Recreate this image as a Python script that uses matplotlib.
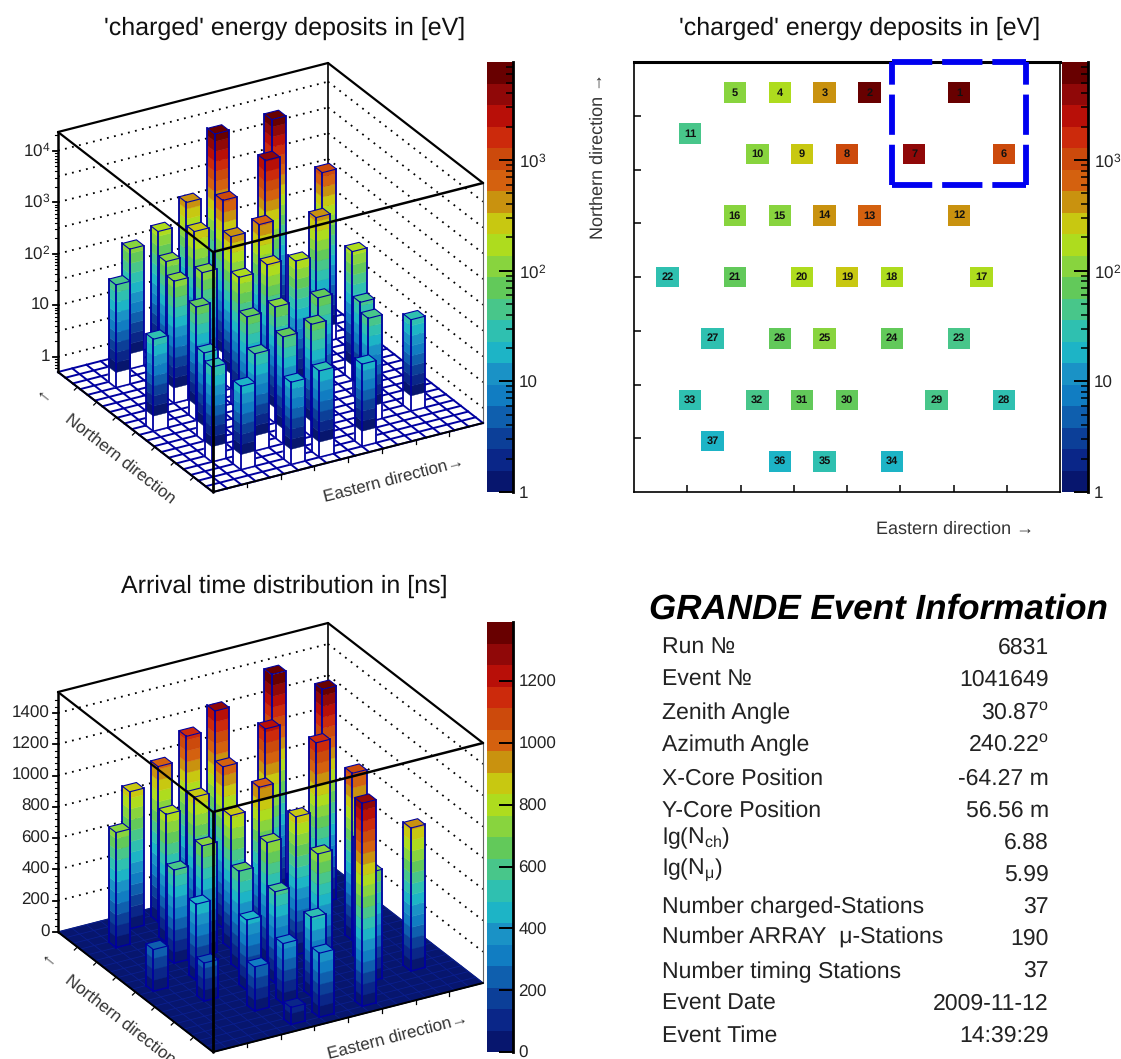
import numpy as np
import matplotlib
matplotlib.use('Agg')
import matplotlib.pyplot as plt
from matplotlib.colors import ListedColormap, BoundaryNorm
from matplotlib.ticker import FixedLocator, LogLocator, NullFormatter

plt.rcParams['font.family'] = ['Liberation Sans', 'DejaVu Sans']
plt.rcParams['mathtext.default'] = 'regular'
plt.rcParams['text.hinting'] = 'no_hinting'
plt.rcParams['text.hinting_factor'] = 1

# station number = list index + 1, column from west, row from north
station_col = [14, 10, 8, 6, 4, 16, 12, 9, 7, 5, 2, 14, 10, 8, 6, 4, 15, 11, 9, 7, 4, 1,
               14, 11, 8, 6, 3, 16, 13, 9, 7, 5, 2, 11, 8, 6, 3]
station_row = [1, 1, 1, 1, 1, 4, 4, 4, 4, 4, 3, 7, 7, 7, 7, 7, 10, 10, 10, 10, 10, 10,
               13, 13, 13, 13, 13, 16, 16, 16, 16, 16, 16, 19, 19, 19, 18]
charged = [6900, 6900, 450, 170, 107, 1000, 3300, 900, 310, 112, 50, 400, 560, 450, 125, 118,
           160, 200, 235, 185, 80, 31, 42, 83, 90, 80, 26, 30, 52, 76, 60, 39, 35, 20, 24, 20, 21]
arrival = [1394, 1253, 1138, 991, 876, 1362, 1202, 1029, 882, 818, 735, 1176, 985, 850, 703, 595,
           1068, 882, 764, 627, 486, 266, 760, 754, 582, 448, 243, 914, 697, 505, 384, 281, 0, 1298,
           409, 109, 0]

band_colors = ['#07166e', '#0a2688', '#0c3f98', '#0f5fae', '#117dc2', '#1a92c6', '#1db4c6', '#2fc0b0',
               '#48c68a', '#62c95a', '#88d43e', '#aedc1e', '#c8c811', '#c9920f', '#d4610f', '#cc4a0c',
               '#cc2a0c', '#b80f08', '#900808', '#680000']

info_labels = ['Run \u2116', 'Event \u2116', 'Zenith Angle', 'Azimuth Angle', 'X-Core Position', 'Y-Core Position',
               'lg(N$_{ch}$)', 'lg(N$_{\\mu}$)', 'Number charged-Stations', 'Number ARRAY  \u03bc-Stations',
               'Number timing Stations', 'Event Date', 'Event Time']
info_values = ['6831', '1041649', '30.87$^{o}$', '240.22$^{o}$', '-64.27 m', '56.56 m', '6.88', '5.99',
               '37', '190', '37', '2009-11-12', '14:39:29']
info_y = [648, 680, 713, 745, 779, 811, 838, 870, 907, 938, 972, 1004, 1036]
info_value_y = [648, 680, 713, 745, 779, 811, 843, 875, 907, 939, 971, 1004, 1036]

n_east = 19
n_north = 21
W = 1121
H = 1059
line_blue = '#0000a0'
tick_size = 12.5

fig = plt.figure(figsize=(W / 100, H / 100), dpi=100)
ax = fig.add_axes([0, 0, 1, 1])
ax.set_xlim(0, W)
ax.set_ylim(H, 0)
ax.axis('off')


def px_axes(x0, y0, x1, y1):
    return fig.add_axes([x0 / W, 1 - y1 / H, (x1 - x0) / W, (y1 - y0) / H])


def lego(values, band_edges, zheight, yoff, wall_z, tick_z, minor_z, tick_labels, filled_floor):
    # floor and box corners in pixels, east and north are in bins
    def pt(e, n, h=0):
        return (213 + 270 * e / n_east - 155 * n / n_north,
                492 + yoff - 69 * e / n_east - 120 * n / n_north - h)

    def seg(a, b, **kw):
        ax.plot([a[0], b[0]], [a[1], b[1]], **kw)

    top = 240
    # back walls
    for z in wall_z:
        h = zheight(z)
        dots = dict(color='black', lw=1.3, ls=(0, (1, 3)), zorder=1)
        seg(pt(0, n_north, h), pt(n_east, n_north, h), **dots)
        seg(pt(n_east, n_north, h), pt(n_east, 0, h), **dots)
    seg(pt(n_east, n_north), pt(n_east, n_north, top), color='black', lw=1.2, zorder=1)
    seg(pt(n_east, 0), pt(n_east, 0, top), color='#666666', lw=0.8, zorder=1)

    # floor
    corners = [pt(0, 0), pt(n_east, 0), pt(n_east, n_north), pt(0, n_north)]
    ax.fill([c[0] for c in corners], [c[1] for c in corners], color=band_colors[0] if filled_floor else 'white', zorder=2)
    grid_lw = 0.6 if filled_floor else 1.4
    grid_col = '#0a1f90' if filled_floor else line_blue
    for i in range(n_east + 1):
        seg(pt(i, 0), pt(i, n_north), color=grid_col, lw=grid_lw, zorder=2)
    for j in range(n_north + 1):
        seg(pt(0, j), pt(n_east, j), color=grid_col, lw=grid_lw, zorder=2)

    # towers, far ones first
    order = sorted(range(len(values)), key=lambda k: -(station_col[k] + (n_north - 1 - station_row[k])))
    zo = 3
    for k in order:
        if values[k] <= 0:
            continue
        e0 = station_col[k]
        n0 = n_north - 1 - station_row[k]
        e1 = e0 + 1
        n1 = n0 + 1
        htop = zheight(values[k])
        # white part under the first colour level
        h_start = max(zheight(band_edges[0]), 0)
        if h_start > 0:
            for a, b in [((e0, n1), (e0, n0)), ((e0, n0), (e1, n0))]:
                q = [pt(*a), pt(*b), pt(*b, h_start), pt(*a, h_start)]
                ax.fill([p[0] for p in q], [p[1] for p in q], color='white', zorder=zo)
        top_col = band_colors[0]
        for b_i, col in enumerate(band_colors):
            if values[k] <= band_edges[b_i]:
                break
            top_col = col
            h0 = zheight(band_edges[b_i])
            h1 = min(zheight(band_edges[b_i + 1]), htop)
            for a, b in [((e0, n1), (e0, n0)), ((e0, n0), (e1, n0))]:
                q = [pt(*a, h0), pt(*b, h0), pt(*b, h1), pt(*a, h1)]
                ax.fill([p[0] for p in q], [p[1] for p in q], facecolor=col, edgecolor=col, lw=0.3, zorder=zo)
        q = [pt(e0, n0, htop), pt(e1, n0, htop), pt(e1, n1, htop), pt(e0, n1, htop), pt(e0, n0, htop)]
        ax.fill([p[0] for p in q], [p[1] for p in q], facecolor=top_col, edgecolor=line_blue, lw=0.8, zorder=zo)
        for c in [(e0, n1), (e0, n0), (e1, n0)]:
            seg(pt(*c), pt(*c, htop), color=line_blue, lw=1.3, zorder=zo)
        seg(pt(e0, n0), pt(e1, n0), color=line_blue, lw=1.1, zorder=zo)
        seg(pt(e0, n0), pt(e0, n1), color=line_blue, lw=1.1, zorder=zo)
        zo += 1

    # box frame over the towers
    fr = dict(color='black', zorder=100, solid_capstyle='round')
    seg(pt(0, n_north, top), pt(n_east, n_north, top), lw=1.6, **fr)
    seg(pt(n_east, n_north, top), pt(n_east, 0, top), lw=1.6, **fr)
    seg(pt(0, n_north, top), pt(0, 0, top), lw=1.6, **fr)
    seg(pt(0, 0, top), pt(n_east, 0, top), lw=1.8, **fr)
    seg(pt(0, 0), pt(0, 0, top), lw=2.0, **fr)
    seg(pt(0, n_north), pt(0, n_north, top), lw=1.8, **fr)
    seg(pt(0, n_north), pt(0, 0), lw=1.4, **fr)
    seg(pt(0, 0), pt(n_east, 0), lw=1.4, **fr)

    # axis ticks
    left = pt(0, n_north)
    for z in tick_z:
        h = zheight(z)
        ax.plot([left[0] - 5, left[0]], [left[1] - h, left[1] - h], color='black', lw=1.3, zorder=100)
    for z in minor_z:
        h = zheight(z)
        ax.plot([left[0] - 3, left[0]], [left[1] - h, left[1] - h], color='black', lw=0.8, zorder=100)
    for z, s in zip(tick_z, tick_labels):
        ax.text(left[0] - 8, left[1] - zheight(z), s, ha='right', va='center', fontsize=tick_size, color='#222222')
    for i in range(1, 8):
        p = pt(n_east * i / 8, 0)
        ax.plot([p[0], p[0]], [p[1], p[1] + 4], color='black', lw=0.9, zorder=100)
        p = pt(0, n_north * i / 8)
        ax.plot([p[0], p[0] - 3], [p[1], p[1] + 3], color='black', lw=0.9, zorder=100)


def colorbar(x0, y0, y1, band_edges, log):
    cax = px_axes(x0, y0, x0 + 26, y1)
    cmap = ListedColormap(band_colors)
    norm = BoundaryNorm(band_edges, cmap.N)
    cax.pcolormesh([0, 1], band_edges, np.array(band_edges[:-1])[:, None] * (1 + 1e-9), cmap=cmap, norm=norm)
    if log:
        cax.set_yscale('log')
    cax.set_ylim(band_edges[0], band_edges[-1])
    cax.set_xticks([])
    for s in ['left', 'top', 'bottom']:
        cax.spines[s].set_visible(False)
    cax.spines['right'].set_linewidth(2.0)
    cax.yaxis.tick_right()
    return cax


def log_colorbar(x0):
    cb = colorbar(x0, 62, 492, charged_edges, True)
    cb.yaxis.set_major_locator(FixedLocator([1, 10, 100, 1000]))
    cb.set_yticklabels(['1', '10', '$10^{2}$', '$10^{3}$'], fontsize=tick_size, color='#222222')
    cb.yaxis.set_minor_locator(LogLocator(subs=range(2, 10)))
    cb.yaxis.set_minor_formatter(NullFormatter())
    cb.tick_params(axis='y', which='major', direction='in', length=10, width=1.4, pad=4)
    cb.tick_params(axis='y', which='minor', direction='in', length=5, width=1.1)


# top left, log z
log_min = np.log10(0.51)
log_max = np.log10(2.3e4)


def log_height(z):
    return (np.log10(z) - log_min) / (log_max - log_min) * 240


charged_edges = np.logspace(0, np.log10(7700), 21)
wall_log = [10 ** (i / 2) for i in range(0, 9)]
minor_log = [m * 10 ** d for d in range(-1, 5) for m in range(2, 10) if 0.51 < m * 10 ** d < 2.3e4]
lego(charged, charged_edges, log_height, 0, wall_log, [1, 10, 100, 1000, 10000], minor_log,
     ['1', '10', '$10^{2}$', '$10^{3}$', '$10^{4}$'], False)
log_colorbar(487)

ax.text(285, 28, "'charged' energy deposits in [eV]", ha='center', va='center', fontsize=18.2, color='#111111')
ax.text(120, 459, 'Northern direction', ha='center', va='center', rotation=-38, fontsize=12.5, color='#333333')
ax.text(43, 397, '\u2190', ha='center', va='center', rotation=-38, fontsize=14, color='#333333')
ax.text(394, 479, 'Eastern direction\u2192', ha='center', va='center', rotation=14.5, fontsize=12.5, color='#333333')

# top right, station map
map_ax = px_axes(634, 62, 1060, 492)
cell_values = np.full((n_north, n_east), np.nan)
for c, r, v in zip(station_col, station_row, charged):
    cell_values[n_north - 1 - r, c] = v
map_ax.pcolormesh(np.arange(n_east + 1), np.arange(n_north + 1), np.ma.masked_invalid(cell_values),
                  cmap=ListedColormap(band_colors), norm=BoundaryNorm(charged_edges, 20))
for i, (c, r) in enumerate(zip(station_col, station_row)):
    map_ax.text(c + 0.5, n_north - 1 - r + 0.5, str(i + 1), ha='center', va='center', fontsize=7.6,
                fontweight='bold', color='#111111')
map_ax.set_xlim(0, n_east)
map_ax.set_ylim(0, n_north)
map_ax.set_xticks([n_east * i / 8 for i in range(1, 8)])
map_ax.set_yticks([n_north * i / 8 for i in range(1, 8)])
map_ax.set_xticklabels([])
map_ax.set_yticklabels([])
map_ax.tick_params(direction='in', length=5, width=1.1)
for s in map_ax.spines.values():
    s.set_linewidth(1.2)
map_ax.spines['top'].set_linewidth(2.2)

box_x = [11.5, 17.5]
box_y = [15, 21]
dash = dict(color='#0000f0', lw=4.2, ls=(0, (6.9, 1.7)), dash_capstyle='butt', clip_on=False, zorder=10)
map_ax.plot([box_x[0], box_x[1]], [box_y[1], box_y[1]], **dash)
map_ax.plot([box_x[0], box_x[1]], [box_y[0], box_y[0]], **dash)
map_ax.plot([box_x[0], box_x[0]], [box_y[0], box_y[1]], **dash)
map_ax.plot([box_x[1], box_x[1]], [box_y[0], box_y[1]], **dash)

log_colorbar(1062)

ax.text(860, 28, "'charged' energy deposits in [eV]", ha='center', va='center', fontsize=18.2, color='#111111')
ax.text(955, 529, 'Eastern direction \u2192', ha='center', va='center', fontsize=12.7, color='#333333')
ax.text(598, 156, 'Northern direction \u2192', ha='center', va='center', rotation=90, fontsize=13, color='#333333')


# bottom left, arrival times
def lin_height(z):
    return z / 1534 * 240


arrival_edges = np.linspace(0, 1391, 21)
major_t = [0, 200, 400, 600, 800, 1000, 1200, 1400]
minor_t = [t for t in range(0, 1520, 40) if t % 200 != 0]
lego(arrival, arrival_edges, lin_height, 560, major_t[1:], major_t, minor_t,
     [str(t) for t in major_t], True)

cb3 = colorbar(487, 622, 1052, arrival_edges, False)
cb3.yaxis.set_major_locator(FixedLocator(major_t[:-1]))
cb3.set_yticklabels([str(t) for t in major_t[:-1]], fontsize=tick_size, color='#222222')
cb3.tick_params(axis='y', which='major', direction='in', length=10, width=1.4, pad=4)

ax.text(284, 586, 'Arrival time distribution in [ns]', ha='center', va='center', fontsize=18.2, color='#111111')
ax.text(120, 1020, 'Northern direction', ha='center', va='center', rotation=-38, fontsize=12.5, color='#333333')
ax.text(48, 961, '\u2190', ha='center', va='center', rotation=-38, fontsize=14, color='#333333')
ax.text(398, 1036, 'Eastern direction\u2192', ha='center', va='center', rotation=14.5, fontsize=12.5, color='#333333')

# bottom right, event info
ax.text(878, 610, 'GRANDE Event Information', ha='center', va='center', fontsize=25.2,
        fontweight='bold', fontstyle='italic', color='black')
for s, y in zip(info_labels, info_y):
    ax.text(662, y, s, ha='left', va='center', fontsize=16.5, color='#222222')
for s, y in zip(info_values, info_value_y):
    ax.text(1049, y, s, ha='right', va='center', fontsize=16.5, color='#222222')

fig.savefig('out.png', dpi=100)
